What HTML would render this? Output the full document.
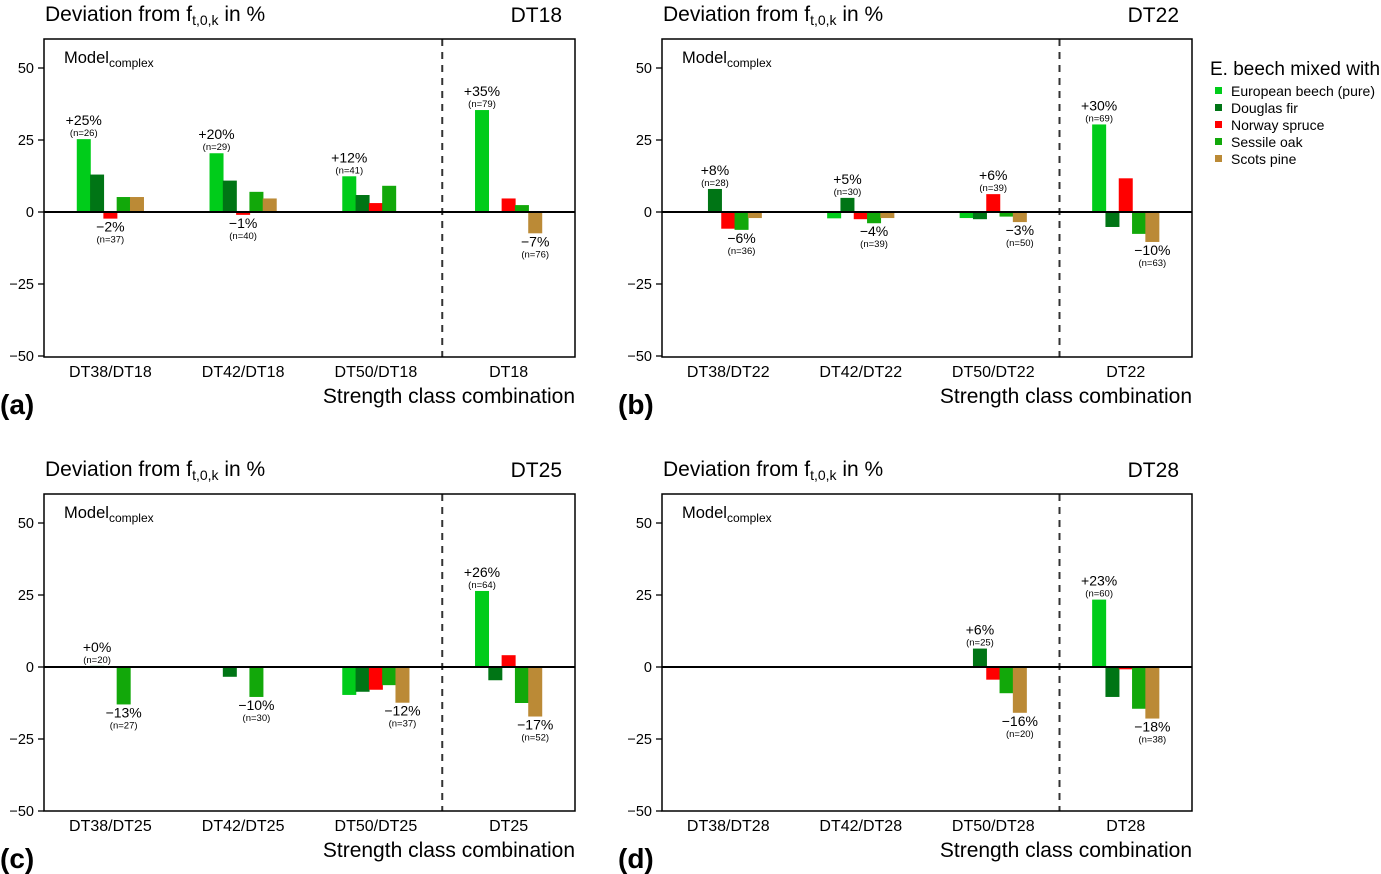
<!DOCTYPE html>
<html><head><meta charset="utf-8"><style>
body{margin:0;background:#fff}
svg{display:block;font-family:"Liberation Sans",Arial,sans-serif}
</style></head><body>
<svg id="fig" width="1381" height="874" viewBox="0 0 1381 874"></svg>
<script>
const species = ["European beech (pure)","Douglas fir","Norway spruce","Sessile oak","Scots pine"];
const colors = ["#00cc1a","#007515","#ff0000","#12a80a","#bb8a36"];
const yTicks = [50,25,0,-25,-50];
const yTickLabels = ["50","25","0","\u221225","\u221250"];
// values per panel: [group][species]; null = no bar
const valsA = [[25.3,13,-2.3,5.2,5.2],[20.4,10.9,-1,7,4.7],[12.4,5.9,3.1,9.1,null],[35.4,null,4.7,2.4,-7.4]];
const valsB = [[null,8,-5.8,-6.2,-2.1],[-2.2,4.9,-2.5,-3.9,-2.1],[-2.1,-2.5,6.2,-1.6,-3.5],[30.4,-5.2,11.7,-7.6,-10.4]];
const valsC = [[null,0.4,null,-13,null],[null,-3.4,null,-10.4,null],[-9.7,-8.6,-7.9,-6.3,-12.4],[26.4,-4.6,4.1,-12.5,-17.2]];
const valsD = [[null,null,null,null,null],[null,null,null,null,null],[null,6.4,-4.4,-9.1,-15.9],[23.4,-10.4,-0.8,-14.5,-17.9]];
const posNA = [26,29,41,79], negNA = [37,40,null,76];
const posNB = [28,30,39,69], negNB = [36,39,50,63];
const posNC = [20,null,null,64], negNC = [27,30,37,52];
const posND = [null,null,25,60], negND = [null,null,20,38];
const catsA = ["DT38/DT18","DT42/DT18","DT50/DT18","DT18"];
const catsB = ["DT38/DT22","DT42/DT22","DT50/DT22","DT22"];
const catsC = ["DT38/DT25","DT42/DT25","DT50/DT25","DT25"];
const catsD = ["DT38/DT28","DT42/DT28","DT50/DT28","DT28"];

const NS="http://www.w3.org/2000/svg";
const svg=document.getElementById('fig');
function mk(tag,attrs,parent,text){const e=document.createElementNS(NS,tag);for(const k in attrs)e.setAttribute(k,attrs[k]);if(text!==undefined)e.textContent=text;(parent||svg).appendChild(e);return e;}
function fmt(v){const r=Math.round(v);return (r>=0?"+":"\u2212")+Math.abs(r)+"%";}

const panels=[
 {id:"a",L:44,R:575,T:39,B:357,vals:valsA,pn:posNA,nn:negNA,cats:catsA,dt:"DT18"},
 {id:"b",L:662,R:1192,T:39,B:357,vals:valsB,pn:posNB,nn:negNB,cats:catsB,dt:"DT22"},
 {id:"c",L:44,R:575,T:494,B:811,vals:valsC,pn:posNC,nn:negNC,cats:catsC,dt:"DT25"},
 {id:"d",L:662,R:1192,T:494,B:811,vals:valsD,pn:posND,nn:negND,cats:catsD,dt:"DT28"}
];
const STEP=13.3, BW=14;
panels.forEach(p=>{
 const g=mk('g',{});
 
 
 const y=v=>p.T+173-v*2.88;
 const band=(p.R-p.L)/4;
 const gx=i=>p.L+(i+0.5)*band;
 const t=mk('text',{x:p.L+1,y:p.T-18,'font-size':21},g);
 
 
 mk('tspan',{},t,"Deviation from f");
 mk('tspan',{'font-size':14,dy:4},t,"t,0,k");
 mk('tspan',{dy:-4},t," in %");
 const dt=mk('text',{x:p.R-13,y:p.T-17,'font-size':21,'text-anchor':'end'},g,p.dt);
 
 
 const m=mk('text',{x:p.L+20,y:p.T+24,'font-size':16.5},g);
 
 
 mk('tspan',{},m,"Model");
 mk('tspan',{'font-size':12,dy:4},m,"complex");
 yTicks.forEach((v,i)=>{
  mk('line',{x1:p.L-6,x2:p.L,y1:y(v),y2:y(v),stroke:'#000','stroke-width':1.3},g);
  const tl=mk('text',{x:p.L-10,y:y(v)+5,'font-size':14.5,'text-anchor':'end'},g,yTickLabels[i]);
  
  
 });
 const sx=p.L+3*band;
 const dl=mk('line',{x1:sx,x2:sx,y1:p.T,y2:p.B,stroke:'#333','stroke-width':2,'stroke-dasharray':'7,6'},g);
 
 
 p.vals.forEach((grp,gi)=>{
  let maxI=-1,minI=-1;
  grp.forEach((v,si)=>{
   if(v===null)return;
   if(v>=0&&(maxI<0||v>grp[maxI]))maxI=si;
   if(v<0&&(minI<0||v<grp[minI]))minI=si;
   const cx=gx(gi)+(si-2)*STEP;
   const r=mk('rect',{x:cx-BW/2,y:Math.min(y(v),y(0)),width:BW,height:Math.abs(y(v)-y(0)),fill:colors[si]},g);
   
   
  });
  if(maxI>=0&&p.pn[gi]!==null){
   const cx=gx(gi)+(maxI-2)*STEP, top=y(grp[maxI]);
   const a=mk('text',{x:cx,y:top-14,'font-size':14,'text-anchor':'middle'},g,fmt(grp[maxI]));
   
   
   const n=mk('text',{x:cx,y:top-3,'font-size':9.5,'text-anchor':'middle'},g,"(n="+p.pn[gi]+")");
   
   
  }
  if(minI>=0&&p.nn[gi]!==null){
   const cx=gx(gi)+(minI-2)*STEP, bot=y(grp[minI]);
   const a=mk('text',{x:cx,y:bot+13,'font-size':14,'text-anchor':'middle'},g,fmt(grp[minI]));
   
   
   const n=mk('text',{x:cx,y:bot+24,'font-size':9.5,'text-anchor':'middle'},g,"(n="+p.nn[gi]+")");
   
   
  }
  const cl=mk('text',{x:gx(gi),y:p.B+20,'font-size':16,'text-anchor':'middle'},g,p.cats[gi]);
  
  
 });
 mk('line',{x1:p.L,x2:p.R,y1:y(0),y2:y(0),stroke:'#000','stroke-width':2},g);
 const fr=mk('rect',{x:p.L,y:p.T,width:p.R-p.L,height:p.B-p.T,fill:'none',stroke:'#000','stroke-width':1.5},g);
 
 
 const xt=mk('text',{x:p.R,y:p.B+46,'font-size':21,'text-anchor':'end'},g,"Strength class combination");
 
 
 const pl=mk('text',{x:p.L-44,y:p.B+57,'font-size':28,'font-weight':'bold'},g,"("+p.id+")");
 
 
});
const lg=mk('g',{});


const lt=mk('text',{x:1210,y:75,'font-size':19},lg,"E. beech mixed with");


species.forEach((s,i)=>{
 const e=mk('g',{},lg);
 
 
 mk('rect',{x:1215,y:87+i*17,width:7,height:7,fill:colors[i]},e);
 mk('text',{x:1231,y:96+i*17,'font-size':14},e,s);
});
</script>
</body></html>
